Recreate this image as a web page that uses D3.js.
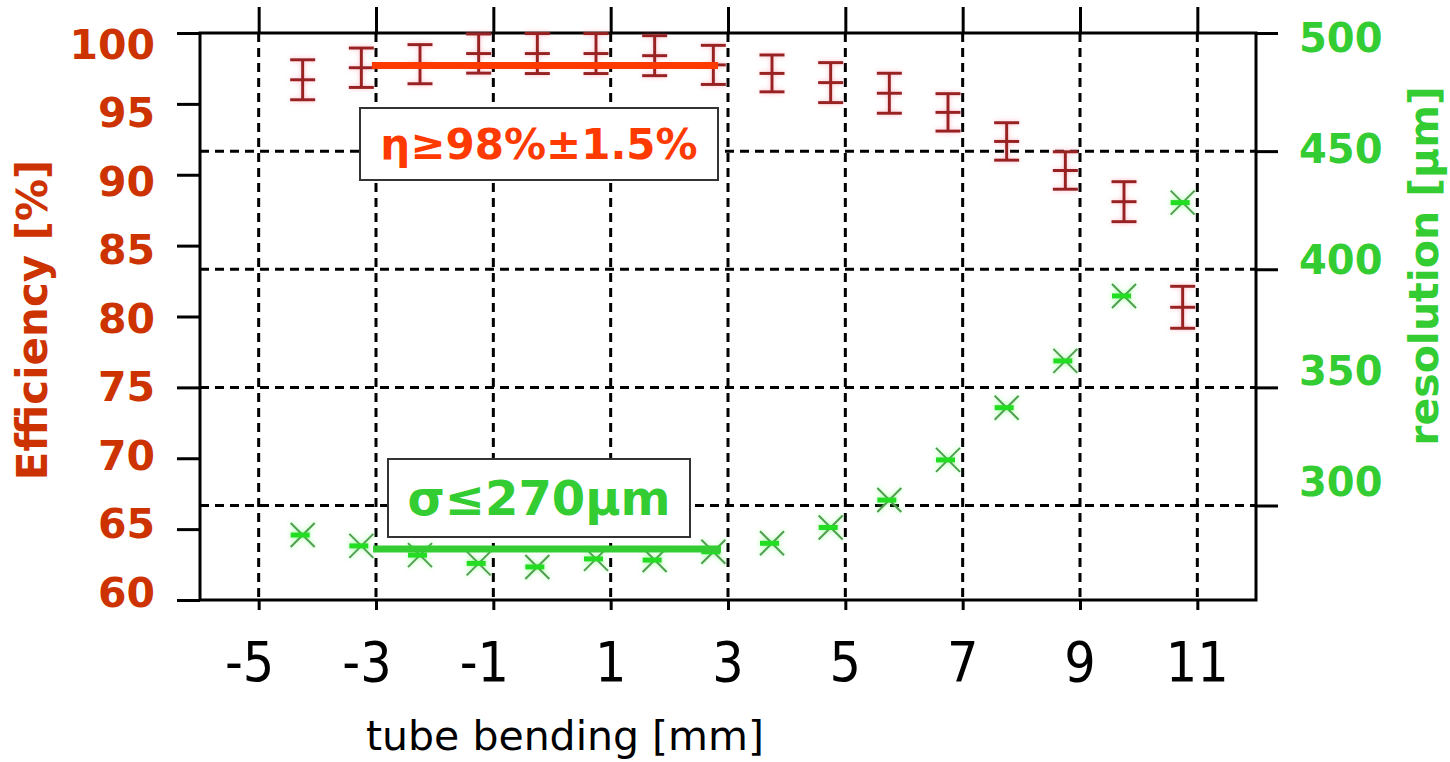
<!DOCTYPE html>
<html>
<head>
<meta charset="utf-8">
<script src="https://cdn.jsdelivr.net/npm/d3@7"></script>
<style>
  html, body { margin: 0; padding: 0; background: #fff; }
  svg { display: block; }
</style>
</head>
<body>
<svg id="chart" width="1450" height="762"></svg>
<script>
// ---------------- data ----------------
const bending = [-4.25, -3.25, -2.25, -1.25, -0.25, 0.75, 1.75, 2.75, 3.75, 4.75, 5.75, 6.75, 7.75, 8.75, 9.75, 10.75];
const efficiency = [96.7, 97.55, 97.8, 98.55, 98.55, 98.55, 98.4, 97.75, 97.15, 96.5, 95.75, 94.4, 92.35, 90.3, 88.1, 80.65];
const efficiencyErr = [1.41, 1.39, 1.38, 1.38, 1.41, 1.41, 1.41, 1.38, 1.3, 1.41, 1.41, 1.32, 1.32, 1.32, 1.41, 1.48];
const resolution = [287.5, 282.9, 279.0, 275.5, 274.0, 277.4, 276.9, 280.4, 284.0, 290.7, 302.3, 319.3, 341.4, 361.2, 388.7, 428.2];

const xTicks = [-5, -3, -1, 1, 3, 5, 7, 9, 11];
const effTicks = [60, 65, 70, 75, 80, 85, 90, 95, 100];
const resTicks = [300, 350, 400, 450, 500];
const resGrid = [300, 350, 400, 450];

const effTarget = { x0: -3.07, x1: 2.83, value: 97.7, label: "η≥98%±1.5%" };
const resTarget = { x0: -3.05, x1: 2.88, value: 281.6, label: "σ≤270µm" };

const xTitle = "tube bending [mm]";
const yLeftTitle = "Efficiency [%]";
const yRightTitle = "resolution [µm]";

// ---------------- scales ----------------
const svg = d3.select("#chart");
const L = 200, R = 1256, T = 33, B = 600;
const x = d3.scaleLinear().domain([-6, 12]).range([L, R]);
const yL = d3.scaleLinear().domain([60, 100]).range([B, T]);
const yR = d3.scaleLinear().domain([260, 500]).range([B, T]);
// tick label placement (labels in the original are slightly compressed relative to ticks)
const yLLab = d3.scaleLinear().domain([60, 100]).range([592, 44]);
const yRLab = d3.scaleLinear().domain([300, 500]).range([482, 37.6]);

const RED_TXT = "#cc3300", GREEN_TXT = "#33cc33";
const BOLD = "'DejaVu Sans', 'Liberation Sans', sans-serif";

// filters for soft glow
const defs = svg.append("defs");
function glow(id, color, op) {
  const f = defs.append("filter").attr("id", id).attr("x", "-50%").attr("y", "-50%").attr("width", "200%").attr("height", "200%");
  f.append("feGaussianBlur").attr("in", "SourceAlpha").attr("stdDeviation", 2.4).attr("result", "b");
  f.append("feFlood").attr("flood-color", color).attr("flood-opacity", op);
  f.append("feComposite").attr("in2", "b").attr("operator", "in").attr("result", "g");
  const m = f.append("feMerge");
  m.append("feMergeNode").attr("in", "g");
  m.append("feMergeNode").attr("in", "SourceGraphic");
}
glow("redGlow", "#ff6f86", 0.45);
glow("greenGlow", "#55ff55", 0.55);

// ---------------- grid ----------------
const grid = svg.append("g").attr("stroke", "#000").attr("stroke-width", 3).attr("stroke-dasharray", "9,6");
grid.selectAll("line.v").data(xTicks).join("line").attr("class", "v")
  .attr("x1", d => x(d)).attr("x2", d => x(d)).attr("y1", T).attr("y2", B);
grid.selectAll("line.h").data(resGrid).join("line").attr("class", "h")
  .attr("x1", L).attr("x2", R).attr("y1", d => yR(d)).attr("y2", d => yR(d));

// ---------------- axes ----------------
function styleAxis(g) {
  g.select(".domain").remove();
  g.selectAll(".tick line").attr("stroke", "#000").attr("stroke-width", 3);
  g.selectAll(".tick text").remove();
}
svg.append("g").attr("transform", `translate(${L},0)`)
  .call(d3.axisLeft(yL).tickValues(effTicks).tickSize(23).tickSizeOuter(0).tickFormat(""))
  .call(styleAxis);
svg.append("g").attr("transform", `translate(${R},0)`)
  .call(d3.axisRight(yR).tickValues(resTicks).tickSize(22).tickSizeOuter(0).tickFormat(""))
  .call(styleAxis);
svg.append("g").attr("transform", `translate(0,${B})`)
  .call(d3.axisBottom(x).tickValues(xTicks).tickSize(10).tickSizeOuter(0).tickFormat(""))
  .call(styleAxis);
svg.append("g").attr("transform", `translate(0,${T})`)
  .call(d3.axisTop(x).tickValues(xTicks).tickSize(26).tickSizeOuter(0).tickFormat(""))
  .call(styleAxis);

// frame
svg.append("rect").attr("x", L).attr("y", T).attr("width", R - L).attr("height", B - T)
  .attr("fill", "none").attr("stroke", "#000").attr("stroke-width", 3);

// tick labels
svg.append("g").selectAll("text").data(effTicks).join("text")
  .attr("x", 155).attr("y", d => yLLab(d)).attr("dy", "0.36em")
  .attr("text-anchor", "end").attr("font-family", BOLD).attr("font-weight", "bold")
  .attr("font-size", 41).attr("fill", RED_TXT).text(d => d);
svg.append("g").selectAll("text").data(resTicks).join("text")
  .attr("x", 1299).attr("y", d => yRLab(d)).attr("dy", "0.36em")
  .attr("text-anchor", "start").attr("font-family", BOLD).attr("font-weight", "bold")
  .attr("font-size", 40).attr("fill", GREEN_TXT).text(d => d);
svg.append("g").selectAll("text").data(xTicks).join("text")
  .attr("x", d => x(d) - (d < 0 ? 9 : 0)).attr("y", 681)
  .attr("text-anchor", "middle").attr("font-family", "'DejaVu Sans Condensed', 'DejaVu Sans', sans-serif")
  .attr("font-stretch", "condensed")
  .attr("font-size", 55).attr("fill", "#000").text(d => d);

// titles
svg.append("text").attr("x", 565).attr("y", 750).attr("text-anchor", "middle")
  .attr("font-family", "'DejaVu Sans', sans-serif").attr("font-size", 41).attr("fill", "#000").text(xTitle);
svg.append("text").attr("transform", "translate(47,320) rotate(-90)").attr("text-anchor", "middle")
  .attr("font-family", BOLD).attr("font-weight", "bold").attr("font-size", 42).attr("fill", RED_TXT).text(yLeftTitle);
svg.append("text").attr("transform", "translate(1438,266) rotate(-90)").attr("text-anchor", "middle")
  .attr("font-family", BOLD).attr("font-weight", "bold").attr("font-size", 41).attr("fill", GREEN_TXT).text(yRightTitle);

// ---------------- efficiency error bars ----------------
const effData = bending.map((b, i) => ({ b, v: efficiency[i], e: efficiencyErr[i] }));
const eb = svg.append("g").attr("stroke", "#982424").attr("stroke-width", 3).attr("filter", "url(#redGlow)");
const capW = 12.5;
const ebG = eb.selectAll("g").data(effData).join("g");
ebG.append("line").attr("x1", d => x(d.b)).attr("x2", d => x(d.b)).attr("y1", d => yL(d.v + d.e)).attr("y2", d => yL(d.v - d.e));
ebG.append("line").attr("x1", d => x(d.b) - capW).attr("x2", d => x(d.b) + capW).attr("y1", d => yL(d.v + d.e)).attr("y2", d => yL(d.v + d.e));
ebG.append("line").attr("x1", d => x(d.b) - capW).attr("x2", d => x(d.b) + capW).attr("y1", d => yL(d.v - d.e)).attr("y2", d => yL(d.v - d.e));
ebG.append("line").attr("x1", d => x(d.b) - capW).attr("x2", d => x(d.b) + capW).attr("y1", d => yL(d.v)).attr("y2", d => yL(d.v));

// ---------------- resolution markers ----------------
const resData = bending.map((b, i) => ({ b, v: resolution[i] }));
const rm = svg.append("g").attr("filter", "url(#greenGlow)");
const rmG = rm.selectAll("g").data(resData).join("g");
const s = 12;
rmG.append("path")
  .attr("d", d => { const cx = x(d.b), cy = yR(d.v); return `M${cx - s},${cy - s}L${cx + s},${cy + s}M${cx - s},${cy + s}L${cx + s},${cy - s}`; })
  .attr("stroke", "#4f9f4f").attr("stroke-width", 2).attr("fill", "none");
rmG.append("line").attr("x1", d => x(d.b) - 12).attr("x2", d => x(d.b) + 7)
  .attr("y1", d => yR(d.v)).attr("y2", d => yR(d.v)).attr("stroke", "#22dd22").attr("stroke-width", 5);

// ---------------- target lines & labels ----------------
svg.append("line").attr("x1", x(effTarget.x0)).attr("x2", x(effTarget.x1))
  .attr("y1", yL(effTarget.value)).attr("y2", yL(effTarget.value))
  .attr("stroke", "#ff3a00").attr("stroke-width", 7);
svg.append("line").attr("x1", x(resTarget.x0)).attr("x2", x(resTarget.x1))
  .attr("y1", yR(resTarget.value)).attr("y2", yR(resTarget.value))
  .attr("stroke", "#33cc33").attr("stroke-width", 7);

function labelBox(x0, y0, x1, y1, text, color, size) {
  svg.append("rect").attr("x", x0).attr("y", y0).attr("width", x1 - x0).attr("height", y1 - y0)
    .attr("fill", "#fff").attr("stroke", "#333").attr("stroke-width", 2);
  svg.append("text").attr("x", (x0 + x1) / 2).attr("y", (y0 + y1) / 2).attr("dy", "0.36em")
    .attr("text-anchor", "middle").attr("font-family", BOLD).attr("font-weight", "bold")
    .attr("font-size", size).attr("fill", color).text(text);
}
labelBox(360, 108, 718, 180, effTarget.label, "#ff3a00", 42);
labelBox(388, 459, 690, 537, resTarget.label, "#33cc33", 48);
</script>
</body>
</html>
